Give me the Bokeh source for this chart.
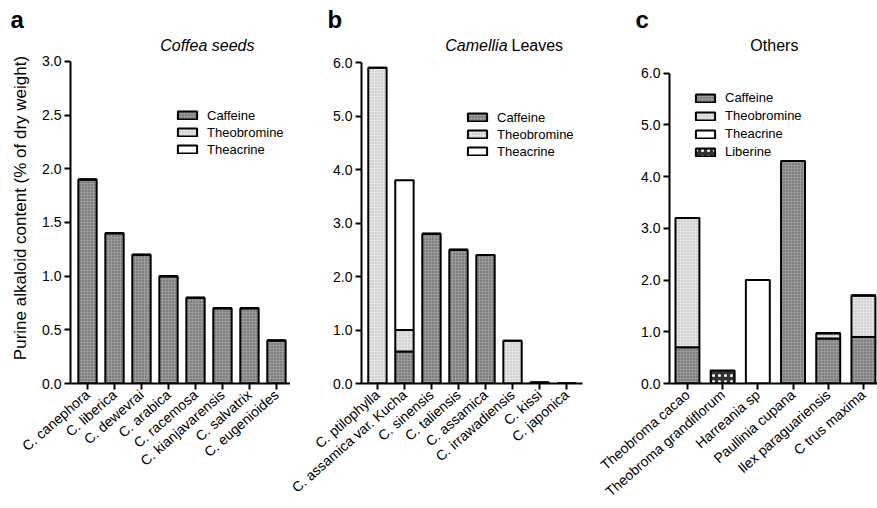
from bokeh.plotting import figure
from bokeh.layouts import row
from bokeh.models import (ColumnDataSource, FixedTicker, PrintfTickFormatter,
                          Legend, LegendItem, Title)
from bokeh.core.properties import value
from bokeh.transform import stack
from bokeh.embed import file_html
from bokeh.resources import INLINE

# ---------------- data ----------------
coffea_species = ["C. canephora", "C. liberica", "C. dewevrai", "C. arabica",
                  "C. racemosa", "C. kianjavarensis", "C. salvatrix", "C. eugenioides"]
coffea_caffeine = [1.9, 1.4, 1.2, 1.0, 0.8, 0.7, 0.7, 0.4]
coffea_theobromine = [0, 0, 0, 0, 0, 0, 0, 0]
coffea_theacrine = [0, 0, 0, 0, 0, 0, 0, 0]

camellia_species = ["C. ptilophylla", "C. assamica var. Kucha", "C. sinensis",
                    "C. taliensis", "C. assamica", "C. irrawadiensis", "C. kissi", "C. japonica"]
camellia_caffeine = [0, 0.6, 2.8, 2.5, 2.4, 0, 0.02, 0]
camellia_theobromine = [5.9, 0.4, 0, 0, 0, 0.8, 0, 0]
camellia_theacrine = [0, 2.8, 0, 0, 0, 0, 0, 0]

others_species = ["Theobroma cacao", "Theobroma grandiflorum", "Harreania sp",
                  "Paullinia cupana", "Ilex paraguariensis", "C trus maxima"]
others_caffeine = [0.7, 0, 0, 4.3, 0.87, 0.9]
others_theobromine = [2.5, 0, 0, 0, 0.1, 0.8]
others_theacrine = [0, 0, 2.0, 0, 0, 0]
others_liberine = [0, 0.25, 0, 0, 0, 0]

coffea_ticks = [0.0, 0.5, 1.0, 1.5, 2.0, 2.5, 3.0]
six_ticks = [0.0, 1.0, 2.0, 3.0, 4.0, 5.0, 6.0]

# ---------------- styles ----------------
FONT = "Liberation Sans"
STYLE = {
    "Caffeine": dict(fill_color="#9a9a9a", hatch_pattern="dot", hatch_color="#555555",
                     hatch_scale=3, hatch_weight=1),
    "Theobromine": dict(fill_color="#e4e4e4", hatch_pattern="dot", hatch_color="#b4b4b4",
                        hatch_scale=3, hatch_weight=1),
    "Theacrine": dict(fill_color="#ffffff"),
    "Liberine": dict(fill_color="#333333", hatch_pattern="dot", hatch_color="#ffffff",
                     hatch_scale=6, hatch_weight=1),
}
BAR_W = 0.68


def make_panel(species, series, names, x_range, y_max, y_top, yticks, width, height,
               bl, br, bt, bb, letter, letter_offset, ylabel=None):
    n = len(species)
    data = {"x": list(range(n))}
    data.update({nm: vals for nm, vals in zip(names, series)})
    src = ColumnDataSource(data)
    p = figure(width=width, height=height, x_range=x_range, y_range=(0, y_top),
               output_backend="svg", toolbar_location=None,
               min_border_left=bl, min_border_right=br, min_border_top=bt,
               min_border_bottom=bb)
    p.title = Title(text=letter, text_font=FONT, text_font_size="24px",
                    text_font_style="bold", align="left", offset=letter_offset,
                    standoff=0, vertical_align="bottom", text_color="black")
    p.outline_line_color = None
    p.xgrid.visible = False
    p.ygrid.visible = False
    p.background_fill_color = None
    p.border_fill_color = None

    items = []
    done = []
    for nm in names:
        bot = stack(*done) if done else 0
        top = stack(*(done + [nm]))
        r = p.vbar(x="x", width=BAR_W, bottom=bot, top=top, source=src,
                   line_color="black", line_width=2, **STYLE[nm])
        done.append(nm)
        items.append(LegendItem(label=nm, renderers=[r]))

    for ax in (p.xaxis[0], p.yaxis[0]):
        ax.axis_line_width = 2
        ax.axis_line_color = "black"
        ax.major_tick_line_width = 2
        ax.major_tick_line_color = "black"
        ax.major_tick_in = 0
        ax.major_tick_out = 6
        ax.minor_tick_line_color = None
        ax.major_label_text_font = FONT
        ax.major_label_text_font_size = "14px"
        ax.major_label_text_color = "black"

    p.xaxis.ticker = FixedTicker(ticks=list(range(n)))
    p.xaxis.major_label_overrides = {i: s for i, s in enumerate(species)}
    p.xaxis.major_label_orientation = 0.72
    p.xaxis.major_label_standoff = 3

    p.yaxis.bounds = (0, y_max)
    p.yaxis.ticker = FixedTicker(ticks=yticks)
    p.yaxis.formatter = PrintfTickFormatter(format="%.1f")
    p.yaxis.major_label_standoff = 3
    if ylabel:
        p.yaxis.axis_label = ylabel
        p.yaxis.axis_label_text_font = FONT
        p.yaxis.axis_label_text_font_size = "17px"
        p.yaxis.axis_label_text_font_style = "normal"
        p.yaxis.axis_label_text_color = "black"
        p.yaxis.axis_label_standoff = 9
    return p, items


def add_legend(p, items, vx, vy, lh):
    lg = Legend(items=items, location=(vx, vy), orientation="vertical",
                glyph_width=24, glyph_height=10, label_height=lh, spacing=1,
                padding=0, margin=0, label_standoff=8,
                label_text_font=FONT, label_text_font_size="13px",
                label_text_color="black",
                background_fill_alpha=0, border_line_color=None)
    p.add_layout(lg, "center")


def add_heading(p, x, y, text, style, align):
    p.text(x=[x], y=[y], text=[text], text_font=value(FONT),
           text_font_size=value("16px"), text_font_style=style,
           text_align=align, text_baseline="alphabetic", text_color="black")


# Panel a
pa, ia = make_panel(coffea_species, [coffea_caffeine, coffea_theobromine, coffea_theacrine],
                    ["Caffeine", "Theobromine", "Theacrine"], (-0.63, 7.52), 3.0, 3.270,
                    coffea_ticks, 290, 508, 70, 0, 32, 125, "a", -60,
                    ylabel="Purine alkaloid content (% of dry weight)")
add_legend(pa, ia, 105, 226, 16)
add_heading(pa, 4.44, 3.149, "Coffea seeds", "italic", "center")

# Panel b
pb, ib = make_panel(camellia_species, [camellia_caffeine, camellia_theobromine, camellia_theacrine],
                    ["Caffeine", "Theobromine", "Theacrine"], (-0.59, 7.59), 6.0, 6.561,
                    six_ticks, 300, 508, 71, 8, 32, 125, "b", -34)
add_legend(pb, ib, 104, 224, 16)
add_heading(pb, 4.815, 6.318, "Camellia", "italic", "right")
add_heading(pb, 4.963, 6.318, "Leaves", "normal", "left")

# Panel c
pc, ic = make_panel(others_species,
                    [others_caffeine, others_theobromine, others_theacrine, others_liberine],
                    ["Caffeine", "Theobromine", "Theacrine", "Liberine"], (-0.51, 5.40), 6.0, 6.786,
                    six_ticks, 287, 508, 79, 0, 32, 122, "c", -34)
add_legend(pc, ic, 24, 223, 17)
add_heading(pc, 2.47, 6.536, "Others", "normal", "center")

layout = row(pa, pb, pc)
open("out.html", "w").write(file_html(layout, INLINE))
